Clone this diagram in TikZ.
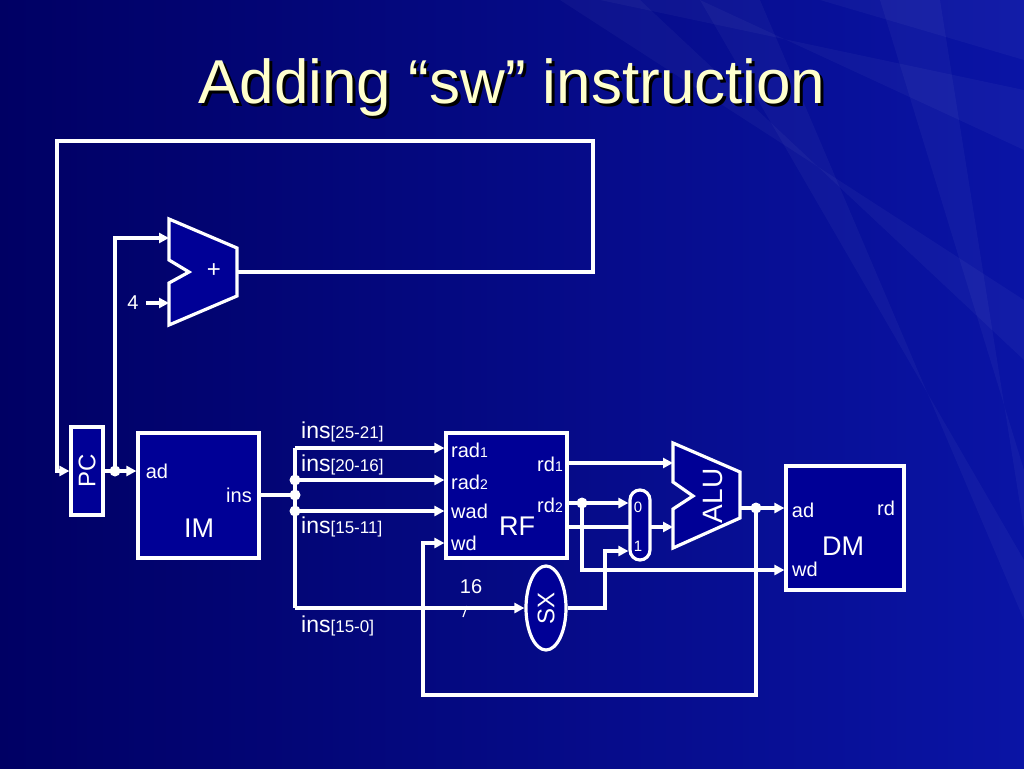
\documentclass[tikz,border=0pt]{standalone}
\usepackage{fontspec}
\setmainfont{Liberation Sans}
\usetikzlibrary{arrows.meta,shapes.geometric}
\definecolor{bgdark}{RGB}{0,0,100}
\definecolor{bglight}{RGB}{10,20,165}
\definecolor{blkblue}{RGB}{0,0,150}
\definecolor{titleyellow}{RGB}{255,255,204}
\newcommand{\sm}[1]{{\fontsize{17}{19}\selectfont #1}}
\newcommand{\smr}[1]{{\fontsize{14}{16}\selectfont #1}}
\begin{document}
\begin{tikzpicture}[x=1pt,y=-1pt,
    wire/.style={draw=white,line width=3.2pt},
    arr/.style={wire,-{Triangle[length=10pt,width=10pt]}},
    blk/.style={draw=white,line width=3.2pt,fill=blkblue,inner sep=0pt},
    lbl/.style={text=white,inner sep=0pt,font=\fontsize{20}{22}\selectfont},
    big/.style={text=white,inner sep=0pt,font=\fontsize{27}{30}\selectfont},
    dot/.style={circle,fill=white,inner sep=0pt,minimum size=11pt}]
  % background
  \useasboundingbox (0,0) rectangle (1024,768);
  \shade[left color=bgdark,right color=bglight] (0,0) rectangle (1024,768);
  \foreach \a/\b/\c in {0/740/820,90/600/700,300/560/640,470/880/940,560/700/760}{%
    \fill[white,opacity=0.035] (1024,\a) -- (\b,0) -- (\c,0) -- (1024,\a+60) -- cycle;
  }
  % title
  \node[text=black,font=\fontsize{62}{66}\selectfont] at (515,90) {Adding “sw” instruction};
  \node[text=titleyellow,font=\fontsize{62}{66}\selectfont] (title) at (512,87) {Adding “sw” instruction};

  % blocks
  \node[blk,minimum width=32pt,minimum height=88pt] (pc) at (87,471) {};
  \node[big,rotate=90,font=\fontsize{24}{26}\selectfont] (pctxt) at (pc) {PC};
  \node[blk,minimum width=121pt,minimum height=125pt] (im) at (198.5,495.5) {};
  \node[blk,minimum width=121pt,minimum height=125pt] (rf) at (506.5,495.5) {};
  \node[blk,minimum width=118pt,minimum height=124pt] (dm) at (845,528) {};

  % adder
  \filldraw[blk] (169,219) -- (237,248) -- (237,296) -- (169,325) -- (169,283) -- (189,272) -- (169,260) -- cycle;
  \coordinate (addA) at (169,238);
  \coordinate (addB) at (169,303);
  \coordinate (addO) at (237,272);
  \node[lbl,font=\fontsize{24}{26}\selectfont] (plus) at (214,271) {+};
  \node[lbl,font=\fontsize{20}{22}\selectfont] (four) at (133,303) {4};

  % feedback loop to PC
  \draw[arr] (addO) -- (593,272) -- (593,141) -- (57,141) -- (57,471) -- (pc.west);
  \node[dot] (pcdot) at (115,471) {};
  \draw[arr] (pc.east) -- (im.west |- pc.east);
  \draw[arr] (pcdot.center) |- (addA);
  \draw[arr,shorten <=7pt] (four.east) -- (addB);

  % instruction bus
  \coordinate (b1) at (295,448);
  \coordinate (b2) at (295,480);
  \coordinate (b3) at (295,495);
  \coordinate (b4) at (295,511);
  \coordinate (b5) at (295,608);
  \draw[wire] (im.east |- b3) -- (b3);
  \draw[wire] (b1) -- (b5);
  \foreach \p in {b2,b3,b4} \node[dot] at (\p) {};
  \draw[arr] (b1) -- (rf.west |- b1);
  \draw[arr] (b2) -- (rf.west |- b2);
  \draw[arr] (b4) -- (rf.west |- b4);

  % ALU and mux
  \filldraw[blk] (673,443) -- (740,472) -- (740,518) -- (673,548) -- (673,509) -- (693,496) -- (673,482) -- cycle;
  \coordinate (aluA) at (673,463);
  \coordinate (aluB) at (673,527);
  \coordinate (aluO) at (740,508);
  \node[big,rotate=90,font=\fontsize{28}{30}\selectfont] (alutxt) at (713,496) {ALU};
  \draw[arr] (rf.east |- aluB) -- (aluB);
  \node[blk,rounded corners=10pt,minimum width=20pt,minimum height=70pt] (mux) at (640,525) {};
  \node[lbl,font=\fontsize{15}{17}\selectfont] (mux0) at (638,507) {0};
  \node[lbl,font=\fontsize{15}{17}\selectfont] (mux1) at (638,546) {1};

  % sign extend
  \node[blk,ellipse,minimum width=40pt,minimum height=84pt] (sx) at (546,608) {};
  \node[lbl,rotate=90,font=\fontsize{24}{26}\selectfont] (sxtxt) at (sx) {SX};
  \draw[arr] (b5) -- (sx.west);
  \node[lbl,font=\fontsize{20}{22}\selectfont] (sixteen) at (471,587) {16};
  \draw[white,line width=1.2pt] (467,606) -- (463,617);
  \draw[arr] (sx.east) -- (605,608) -- (605,551) -- (mux.west |- 0,551);

  % register file outputs
  \draw[arr] (rf.east |- aluA) -- (aluA);
  \node[dot] (rddot) at (582,503) {};
  \draw[arr] (rf.east |- rddot) -- (mux.west |- rddot);
  \draw[arr] (rddot.center) -- (582,570) -- (dm.west |- 0,570);

  % ALU result
  \node[dot] (aludot) at (756,508) {};
  \draw[arr] (aluO) -- (dm.west |- aluO);
  \draw[arr] (aludot.center) -- (756,695) -- (423,695) -- (423,543) -- (rf.west |- 0,543);

  % labels
  \node[lbl] (imad) at (157,471) {ad};
  \node[lbl] (imins) at (239,495) {ins};
  \node[big] (imtxt) at (199,528) {IM};
  \node[lbl,anchor=west,font=\fontsize{23}{25}\selectfont] (i1) at (301,432) {ins\sm{[25-21]}};
  \node[lbl,anchor=west,font=\fontsize{23}{25}\selectfont] (i2) at (301,465) {ins\sm{[20-16]}};
  \node[lbl,anchor=west,font=\fontsize{23}{25}\selectfont] (i3) at (301,527) {ins\sm{[15-11]}};
  \node[lbl,anchor=west,font=\fontsize{23}{25}\selectfont] (i4) at (301,626) {ins\sm{[15-0]}};
  \node[lbl,anchor=west] (rad1) at (451,450) {rad\smr{1}};
  \node[lbl,anchor=west] (rad2) at (451,482) {rad\smr{2}};
  \node[lbl,anchor=west] (wad) at (451,511) {wad};
  \node[lbl,anchor=west] (wd) at (451,543) {wd};
  \node[lbl,anchor=east] (rd1) at (563,464) {rd\smr{1}};
  \node[lbl,anchor=east] (rd2) at (563,505) {rd\smr{2}};
  \node[big] (rftxt) at (517,526) {RF};
  \node[lbl] (dmad) at (803,510) {ad};
  \node[lbl] (dmrd) at (886,508) {rd};
  \node[lbl] (dmwd) at (805,569) {wd};
  \node[big] (dmtxt) at (843,546) {DM};
\end{tikzpicture}
\end{document}
